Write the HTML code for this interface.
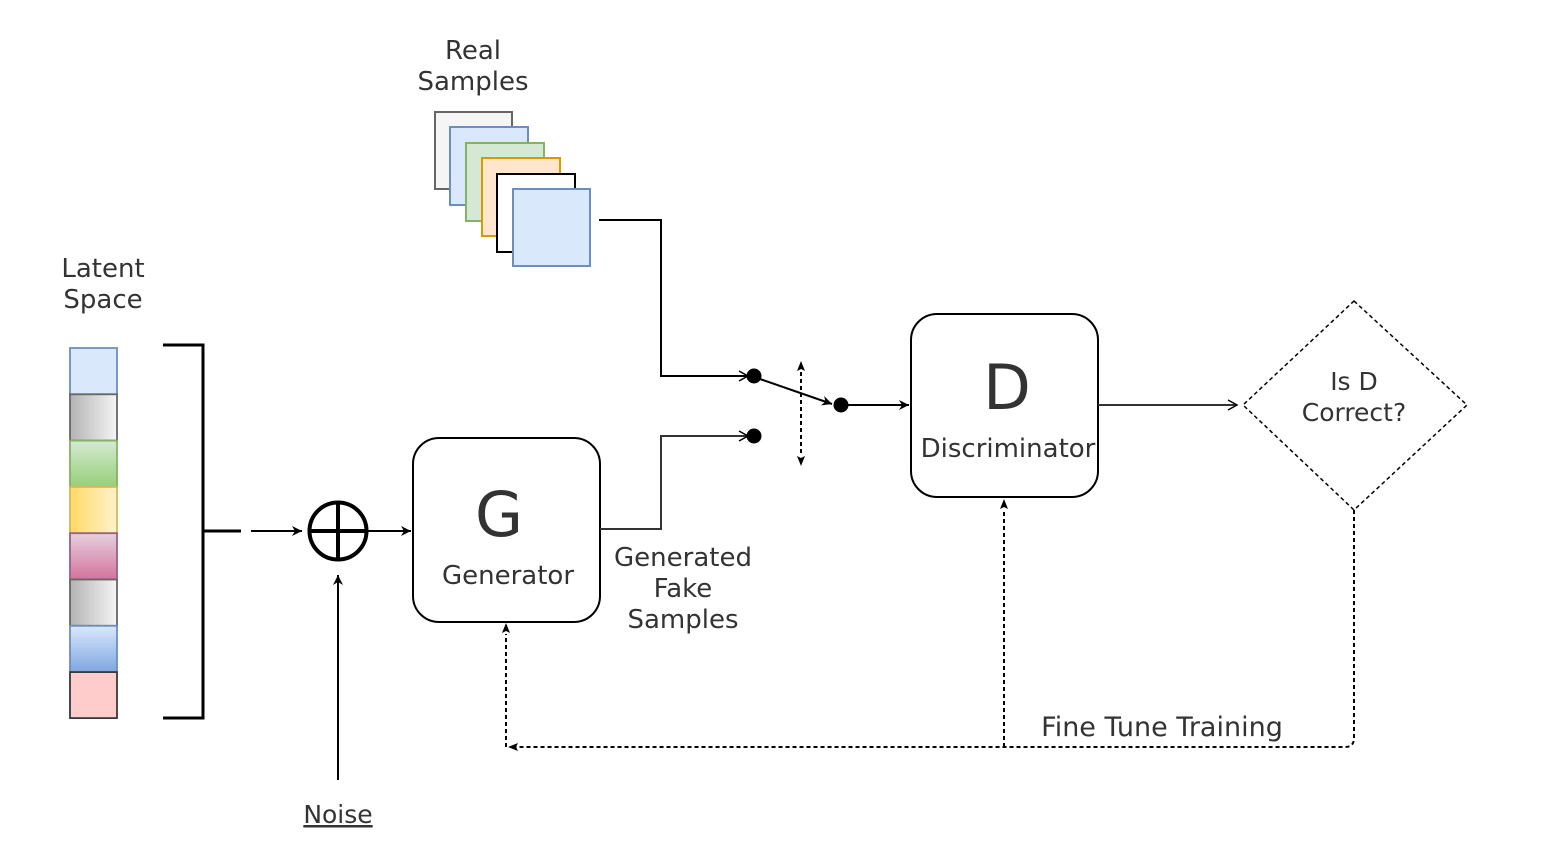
<!DOCTYPE html>
<html><head><meta charset="utf-8"><style>
html,body{margin:0;padding:0;background:#fff;}
svg{display:block;}
text{font-family:"DejaVu Sans","Liberation Sans",sans-serif;fill:#333;}
</style></head><body>
<svg width="1543" height="843" viewBox="0 0 1543 843" xmlns="http://www.w3.org/2000/svg">
<defs>
<marker id="a" markerWidth="12" markerHeight="10" refX="10" refY="5" orient="auto" markerUnits="userSpaceOnUse"><path d="M0,0 L10,5 L0,10 L3,5 Z" fill="#000"/></marker>
<marker id="o" markerWidth="12" markerHeight="12" refX="10" refY="6" orient="auto" markerUnits="userSpaceOnUse"><path d="M1,1 L10,6 L1,11" fill="none" stroke="#000" stroke-width="1.5"/></marker>
<linearGradient id="gr" x1="0" x2="1"><stop offset="0" stop-color="#b3b3b3"/><stop offset="1" stop-color="#f5f5f5"/></linearGradient>
<linearGradient id="gn" x1="0" y1="0" x2="0" y2="1"><stop offset="0" stop-color="#d5e8d4"/><stop offset="1" stop-color="#97d077"/></linearGradient>
<linearGradient id="yl" x1="0" x2="1"><stop offset="0" stop-color="#ffd966"/><stop offset="1" stop-color="#fff2cc"/></linearGradient>
<linearGradient id="pk" x1="0" y1="0" x2="0" y2="1"><stop offset="0" stop-color="#e6d0de"/><stop offset="1" stop-color="#d5739d"/></linearGradient>
<linearGradient id="bl" x1="0" y1="0" x2="0" y2="1"><stop offset="0" stop-color="#dae8fc"/><stop offset="1" stop-color="#7ea6e0"/></linearGradient>
</defs>

<text x="103" y="277" font-size="26" text-anchor="middle">Latent</text>
<text x="103" y="308" font-size="26" text-anchor="middle">Space</text>
<g stroke-width="1.8">
<rect x="70" y="348" width="47" height="46.3" fill="#dae8fc" stroke="#6c8ebf"/>
<rect x="70" y="394.3" width="47" height="46.3" fill="url(#gr)" stroke="#666"/>
<rect x="70" y="440.6" width="47" height="46.3" fill="url(#gn)" stroke="#82b366"/>
<rect x="70" y="486.9" width="47" height="46.3" fill="url(#yl)" stroke="#d6b656"/>
<rect x="70" y="533.2" width="47" height="46.3" fill="url(#pk)" stroke="#996185"/>
<rect x="70" y="579.5" width="47" height="46.3" fill="url(#gr)" stroke="#666"/>
<rect x="70" y="625.8" width="47" height="46.3" fill="url(#bl)" stroke="#6c8ebf"/>
<rect x="70" y="672.1" width="47" height="46" fill="#ffcccc" stroke="#36393d"/>
</g>
<path d="M163,345 H203 V718 H163 M203,531 H241" fill="none" stroke="#000" stroke-width="3"/>
<line x1="251" y1="531" x2="302" y2="531" stroke="#000" stroke-width="2" marker-end="url(#a)"/>
<circle cx="338" cy="531" r="28.5" fill="none" stroke="#000" stroke-width="4"/>
<path d="M309.5,531 H366.5 M338,502.5 V559.5" stroke="#000" stroke-width="4"/>
<line x1="368" y1="531" x2="411" y2="531" stroke="#000" stroke-width="2" marker-end="url(#a)"/>
<line x1="338" y1="780" x2="338" y2="575" stroke="#000" stroke-width="2" marker-end="url(#a)"/>
<text x="338" y="823" font-size="25" text-anchor="middle" text-decoration="underline">Noise</text>

<rect x="413" y="438" width="187" height="184" rx="26" fill="#fff" stroke="#000" stroke-width="2"/>
<text x="499" y="536" font-size="62" text-anchor="middle">G</text>
<text x="508" y="584" font-size="26" text-anchor="middle">Generator</text>
<text x="683" y="566" font-size="26" text-anchor="middle">Generated</text>
<text x="683" y="597" font-size="26" text-anchor="middle">Fake</text>
<text x="683" y="628" font-size="26" text-anchor="middle">Samples</text>
<path d="M600,529 H661 V436 H748" fill="none" stroke="#333" stroke-width="2" marker-end="url(#o)"/>

<text x="473" y="59" font-size="26" text-anchor="middle">Real</text>
<text x="473" y="90" font-size="26" text-anchor="middle">Samples</text>
<g stroke-width="2">
<rect x="435" y="112" width="77" height="77" fill="#f5f5f5" stroke="#666"/>
<rect x="450" y="127" width="78" height="78" fill="#dae8fc" stroke="#6c8ebf"/>
<rect x="466" y="143" width="78" height="78" fill="#d5e8d4" stroke="#82b366"/>
<rect x="482" y="158" width="78" height="78" fill="#ffe6cc" stroke="#d79b00"/>
<rect x="497" y="174" width="78" height="78" fill="#fff" stroke="#000"/>
<rect x="513" y="189" width="77" height="77" fill="#dae8fc" stroke="#6c8ebf"/>
</g>
<path d="M599,220 H661 V376 H748" fill="none" stroke="#000" stroke-width="2" marker-end="url(#o)"/>

<circle cx="754" cy="376" r="7.5" fill="#000"/>
<circle cx="754" cy="436" r="7.5" fill="#000"/>
<circle cx="841" cy="405" r="7.5" fill="#000"/>
<line x1="760" y1="379" x2="832" y2="404" stroke="#000" stroke-width="2" marker-end="url(#a)"/>
<line x1="801" y1="372" x2="801" y2="456" stroke="#000" stroke-width="2" stroke-dasharray="4,3"/>
<path d="M801,361 L805,371 L801,369 L797,371 Z M801,466 L805,456 L801,458 L797,456 Z" fill="#000"/>
<line x1="848" y1="405" x2="909" y2="405" stroke="#000" stroke-width="2" marker-end="url(#a)"/>

<rect x="911" y="314" width="187" height="183" rx="26" fill="#fff" stroke="#000" stroke-width="2"/>
<text x="1007" y="409" font-size="62" text-anchor="middle">D</text>
<text x="1008" y="457" font-size="26" text-anchor="middle">Discriminator</text>
<line x1="1098" y1="405" x2="1237" y2="405" stroke="#333" stroke-width="2" marker-end="url(#o)"/>

<path d="M1354,301 L1467,405 L1354,510 L1243,405 Z" fill="#fff" stroke="#000" stroke-width="1.5" stroke-dasharray="4,3"/>
<text x="1354" y="390" font-size="25" text-anchor="middle">Is D</text>
<text x="1354" y="421" font-size="25" text-anchor="middle">Correct?</text>

<path d="M1354,510 V738 Q1354,747 1345,747 H510" fill="none" stroke="#000" stroke-width="2" stroke-dasharray="4,3"/>
<path d="M508,747 L518,743 L516,747 L518,751 Z" fill="#000"/>
<line x1="1004" y1="747" x2="1004" y2="510" stroke="#000" stroke-width="2" stroke-dasharray="4,3"/>
<path d="M1004,499 L1008,509 L1004,507 L1000,509 Z" fill="#000"/>
<line x1="506" y1="747" x2="506" y2="634" stroke="#000" stroke-width="2" stroke-dasharray="4,3"/>
<path d="M506,623 L510,633 L506,631 L502,633 Z" fill="#000"/>
<text x="1162" y="736" font-size="27" text-anchor="middle">Fine Tune Training</text>
</svg>
</body></html>
